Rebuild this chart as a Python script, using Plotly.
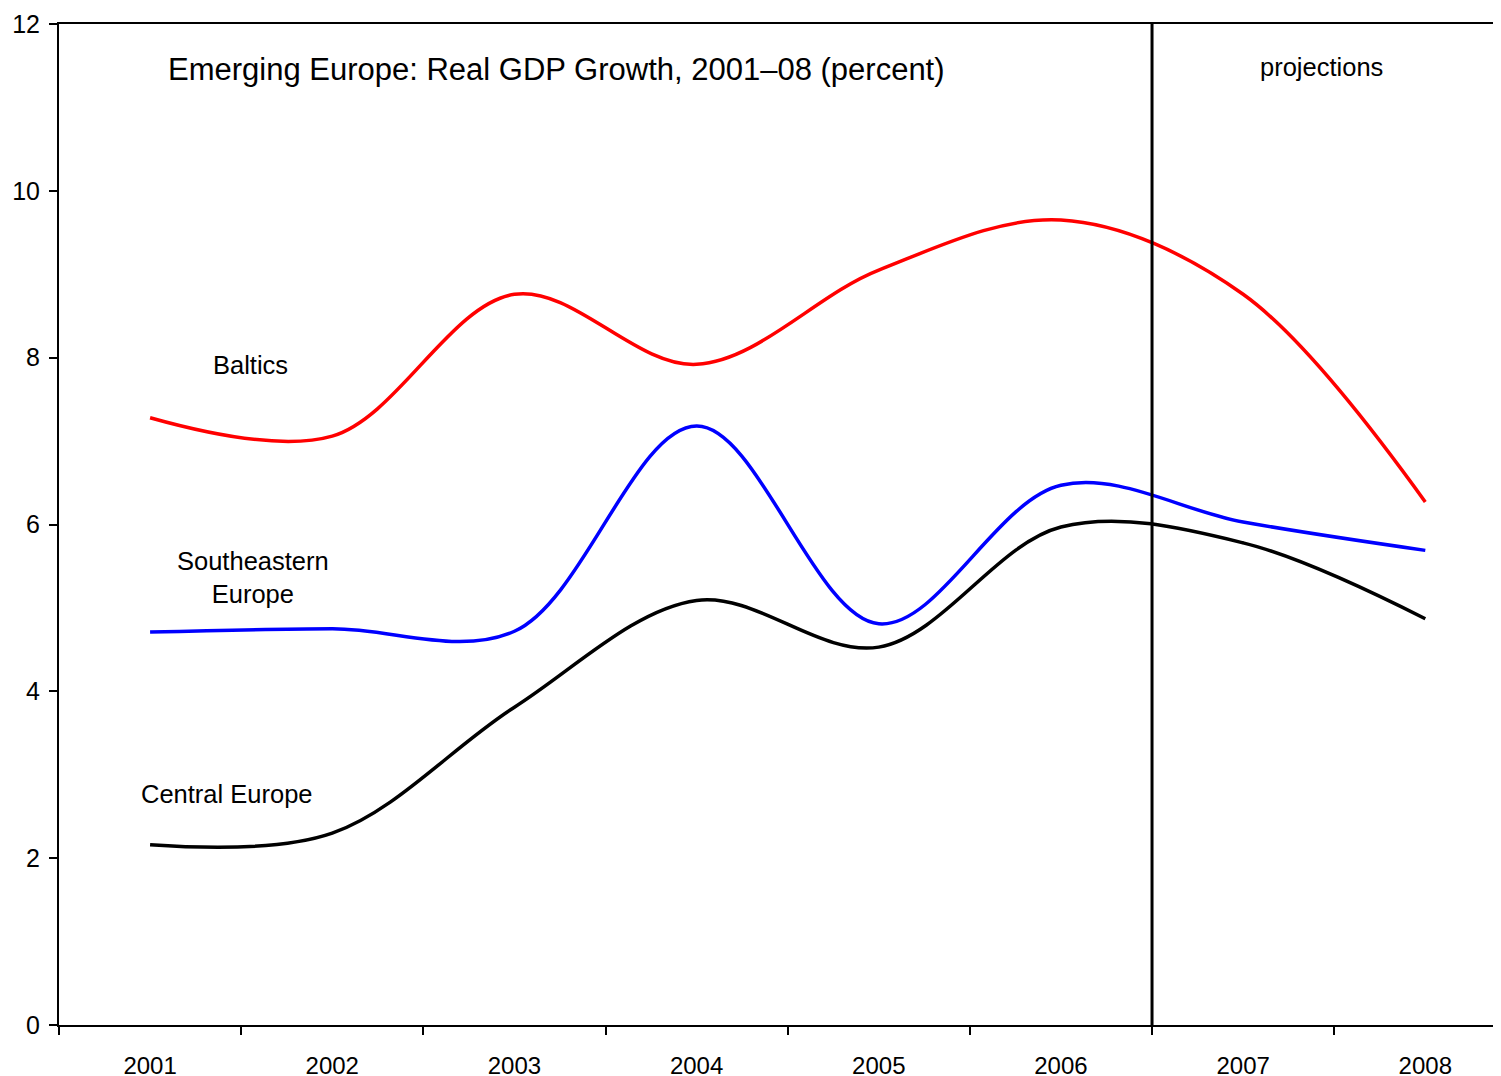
import plotly.graph_objects as go

years = [2001, 2002, 2003, 2004, 2005, 2006, 2007, 2008]
baltics = [7.28, 7.06, 8.76, 7.92, 9.05, 9.65, 8.76, 6.27]
southeastern = [4.71, 4.75, 4.72, 7.18, 4.81, 6.47, 6.03, 5.69]
central = [2.16, 2.30, 3.81, 5.09, 4.53, 5.97, 5.78, 4.87]
y_ticks = [0, 2, 4, 6, 8, 10, 12]
projection_start = 2006.5

FONT = "Liberation Sans, Arial, sans-serif"

fig = go.Figure()
for vals, col in [(baltics, "#FF0000"), (southeastern, "#0000FF"), (central, "#000000")]:
    fig.add_trace(go.Scatter(x=years, y=vals, mode="lines",
                             line=dict(color=col, width=3.5, shape="spline", smoothing=1.0),
                             showlegend=False, hoverinfo="skip"))

fig.add_shape(type="line", x0=projection_start, x1=projection_start, y0=0, y1=12,
              xref="x", yref="y", line=dict(color="#000000", width=3))

def ann(text, x, y, size, xanchor="center"):
    fig.add_annotation(text=text, x=x, y=y, xref="x", yref="y", showarrow=False,
                       xanchor=xanchor, yanchor="middle",
                       font=dict(family=FONT, size=size, color="#000000"))

ann("Emerging Europe: Real GDP Growth, 2001\u201308 (percent)", 2001.09, 11.45, 31, "left")
ann("projections", 2007.43, 11.48, 25.5)
ann("Baltics", 2001.55, 7.91, 25.5)
ann("Southeastern<br>Europe", 2001.565, 5.37, 25.5)
ann("Central Europe", 2001.42, 2.77, 25.5)

fig.update_layout(
    width=1501, height=1076,
    margin=dict(l=51, r=1, t=16, b=59),
    paper_bgcolor="white", plot_bgcolor="white",
    font=dict(family=FONT, size=24, color="#000000"),
    xaxis=dict(range=[2000.5, 2008.454], tickmode="array", tickvals=years,
               ticktext=[str(y) for y in years], ticks="", showgrid=False,
               zeroline=False, showline=True, linecolor="#000000", linewidth=2,
               mirror=True, ticklabelstandoff=18, automargin=False,
               minor=dict(tickmode="array", tickvals=[y + 0.5 for y in years[:-1]] + [2000.5],
                          ticks="outside", ticklen=8, tickwidth=2, tickcolor="#000000",
                          showgrid=False),
               tickfont=dict(family=FONT, size=24)),
    yaxis=dict(range=[0, 12], tickvals=y_ticks, ticks="outside", ticklen=8,
               tickwidth=2, tickcolor="#000000", showgrid=False, zeroline=False,
               showline=True, linecolor="#000000", linewidth=2, automargin=False,
               ticklabelstandoff=4, tickfont=dict(family=FONT, size=25)),
)

fig.write_html("out.html")
